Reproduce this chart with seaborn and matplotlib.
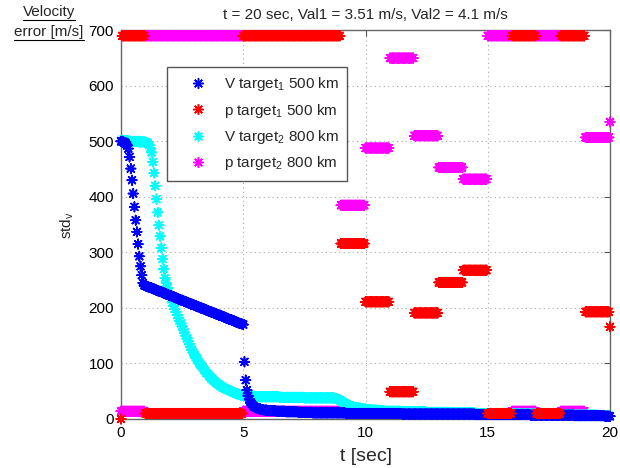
import numpy as np
import pandas as pd
import matplotlib
matplotlib.use("Agg")
import matplotlib.pyplot as plt
from matplotlib.lines import Line2D
import seaborn as sns

# ---------------- data ----------------
dt = 0.05
n_per_sec = 20

# V target1 500 km (blue), one row per second, samples every 0.05 s
v1_rows = [
    [500, 500, 499, 498, 496, 493, 487, 472, 451, 430, 406, 382, 358, 337, 315, 293, 275, 259, 245, 241],
    [240, 239, 238, 237, 237, 236, 235, 234, 233, 232, 231, 230, 230, 229, 228, 227, 226, 225, 224, 223],
    [222, 222, 221, 220, 219, 218, 217, 216, 215, 214, 214, 213, 212, 211, 210, 209, 208, 207, 207, 206],
    [205, 204, 203, 202, 201, 200, 200, 199, 198, 197, 196, 195, 194, 193, 193, 192, 191, 190, 189, 188],
    [187, 187, 186, 185, 184, 183, 182, 181, 180, 179, 179, 178, 177, 176, 175, 174, 173, 172, 172, 171],
    [170, 103, 70, 52, 42, 35, 30, 27, 24, 22, 21, 20, 19, 18, 18, 17, 17, 16, 16, 16],
    [15, 15, 15, 15, 15, 15, 15, 14, 14, 14, 14, 14, 14, 14, 14, 13, 13, 13, 13, 13],
    [13, 13, 13, 13, 13, 12, 12, 12, 12, 12, 12, 12, 12, 12, 12, 12, 12, 11, 11, 11],
    [11, 11, 11, 11, 11, 11, 11, 11, 11, 11, 11, 11, 11, 11, 11, 11, 11, 11, 11, 11],
    [11, 11, 11, 11, 10, 10, 10, 10, 10, 10, 10, 10, 10, 10, 10, 10, 10, 10, 10, 10],
    [10, 10, 10, 10, 10, 10, 10, 10, 10, 10, 10, 10, 10, 10, 10, 10, 10, 10, 10, 10],
    [10, 10, 10, 10, 10, 10, 10, 10, 10, 10, 9, 9, 9, 9, 9, 9, 9, 9, 9, 9],
    [9, 9, 9, 9, 9, 9, 9, 9, 9, 9, 9, 9, 9, 9, 9, 9, 9, 9, 9, 9],
    [9, 9, 9, 9, 9, 9, 9, 9, 9, 9, 9, 9, 9, 9, 9, 9, 9, 9, 9, 9],
    [9, 9, 9, 9, 9, 9, 9, 9, 9, 9, 8, 8, 8, 8, 8, 8, 8, 8, 8, 8],
    [8, 8, 8, 8, 8, 8, 8, 8, 8, 8, 8, 8, 8, 8, 8, 8, 8, 8, 8, 8],
    [8, 8, 8, 8, 8, 8, 8, 8, 8, 8, 8, 8, 8, 8, 8, 7, 7, 7, 7, 7],
    [7, 7, 7, 7, 7, 7, 7, 7, 7, 7, 7, 7, 7, 7, 7, 7, 7, 7, 7, 7],
    [7, 7, 7, 7, 7, 7, 7, 7, 7, 7, 7, 6, 6, 6, 6, 6, 6, 6, 6, 6],
    [6, 6, 6, 6, 6, 6, 6, 6, 6, 6, 6, 6, 6, 6, 6, 6, 5, 5, 5, 5],
]
v1_last = 5

# V target2 800 km (cyan)
v2_rows = [
    [501, 501, 501, 501, 501, 501, 501, 500, 500, 500, 500, 500, 500, 500, 500, 499, 499, 499, 499, 499],
    [498, 498, 496, 493, 488, 480, 463, 443, 420, 396, 372, 349, 329, 308, 288, 270, 254, 245, 236, 229],
    [222, 216, 210, 204, 198, 193, 187, 182, 177, 172, 167, 161, 156, 150, 145, 140, 135, 130, 125, 120],
    [116, 112, 109, 105, 101, 98, 95, 92, 89, 86, 83, 81, 78, 76, 73, 71, 69, 67, 65, 63],
    [62, 60, 59, 57, 56, 55, 54, 53, 52, 51, 50, 49, 48, 47, 46, 45, 45, 44, 43, 43],
    [42, 42, 41, 41, 41, 41, 41, 41, 41, 41, 40, 40, 40, 40, 40, 40, 40, 40, 40, 40],
    [40, 40, 40, 40, 40, 40, 40, 40, 40, 40, 39, 39, 39, 39, 39, 39, 39, 39, 39, 39],
    [39, 39, 39, 39, 39, 39, 39, 39, 39, 39, 38, 38, 38, 38, 38, 38, 38, 38, 38, 38],
    [38, 38, 38, 38, 38, 38, 38, 38, 38, 38, 38, 38, 38, 38, 38, 37, 37, 36, 35, 34],
    [33, 31, 30, 28, 27, 26, 25, 24, 23, 22, 22, 21, 21, 20, 20, 19, 19, 19, 18, 18],
    [18, 17, 17, 17, 17, 16, 16, 16, 16, 16, 15, 15, 15, 15, 15, 15, 14, 14, 14, 14],
    [14, 14, 14, 14, 14, 14, 14, 14, 14, 14, 13, 13, 13, 13, 13, 13, 13, 13, 13, 13],
    [13, 13, 13, 13, 13, 13, 13, 13, 13, 13, 12, 12, 12, 12, 12, 12, 12, 12, 12, 12],
    [12, 12, 12, 12, 12, 12, 12, 12, 12, 12, 11, 11, 11, 11, 11, 11, 11, 11, 11, 11],
    [11, 11, 11, 11, 11, 11, 11, 11, 11, 11, 10, 10, 10, 10, 10, 10, 10, 10, 10, 10],
    [10, 10, 10, 10, 10, 10, 10, 10, 10, 10, 9, 9, 9, 9, 9, 9, 9, 9, 9, 9],
    [9, 9, 9, 9, 9, 9, 9, 9, 9, 9, 9, 9, 9, 9, 9, 9, 9, 9, 9, 9],
    [9, 9, 9, 9, 9, 9, 9, 9, 9, 9, 8, 8, 8, 8, 8, 8, 8, 8, 8, 8],
    [8, 8, 8, 8, 8, 8, 8, 8, 8, 8, 7, 7, 7, 7, 7, 7, 7, 7, 7, 7],
    [7, 7, 7, 7, 7, 7, 7, 7, 7, 7, 6, 6, 6, 6, 6, 6, 6, 6, 6, 6],
]
v2_last = 5

# p target1 500 km (red): level held during each second [k, k+1)
p1_levels = [690, 10, 10, 10, 10, 690, 690, 690, 690, 316,
             211, 49, 191, 246, 268, 10, 690, 10, 690, 193]
p1_first = 0
p1_last = 166

# p target2 800 km (magenta)
p2_levels = [14, 690, 690, 690, 690, 14, 14, 14, 14, 385,
             488, 650, 510, 453, 432, 690, 14, 690, 14, 507]
p2_last = 535

series_labels = [r"V target$_{1}$ 500 km", r"p target$_{1}$ 500 km",
                 r"V target$_{2}$ 800 km", r"p target$_{2}$ 800 km"]
series_colors = ["#0000ff", "#ff0000", "#00ffff", "#ff00ff"]

title_text = "t = 20 sec, Val1 = 3.51 m/s, Val2 = 4.1 m/s"
x_ticks = [0, 5, 10, 15, 20]
y_ticks = [0, 100, 200, 300, 400, 500, 600, 700]

# ---------------- build long-form table ----------------
n_total = len(v1_rows) * n_per_sec + 1
t = np.arange(n_total) * dt

v1 = np.concatenate([np.array(r, float) for r in v1_rows] + [[v1_last]])
v2 = np.concatenate([np.array(r, float) for r in v2_rows] + [[v2_last]])
p1 = np.concatenate([np.repeat(np.array(p1_levels, float), n_per_sec), [p1_last]])
p1[0] = p1_first
p2 = np.concatenate([np.repeat(np.array(p2_levels, float), n_per_sec), [p2_last]])

values = {series_labels[0]: v1, series_labels[1]: p1,
          series_labels[2]: v2, series_labels[3]: p2}
draw_order = [series_labels[3], series_labels[2], series_labels[0], series_labels[1]]
df = pd.concat([pd.DataFrame({"t": t, "value": values[k], "series": k}) for k in draw_order],
               ignore_index=True)

# ---------------- style ----------------
sns.set_style("white")
plt.rcParams["font.family"] = ["Liberation Sans", "DejaVu Sans"]
plt.rcParams["mathtext.fontset"] = "custom"
plt.rcParams["mathtext.rm"] = "Liberation Sans"
plt.rcParams["mathtext.it"] = "Liberation Sans:italic"
plt.rcParams["mathtext.default"] = "regular"

fig = plt.figure(figsize=(6.2, 4.68), dpi=100)
ax = fig.add_axes([121 / 620, 49 / 468, 489 / 620, 388.7 / 468])

asterisk = (8, 2, 0)
palette = dict(zip(series_labels, series_colors))
sns.scatterplot(data=df, x="t", y="value", hue="series", hue_order=series_labels,
                palette=palette, marker=asterisk, s=46, linewidth=1.2,
                legend=False, ax=ax, clip_on=False, zorder=3)

ax.set_xlim(0, 20)
ax.set_ylim(0, 700)
ax.set_xticks(x_ticks)
ax.set_yticks(y_ticks)
ax.set_xticklabels([str(v) for v in x_ticks])
ax.set_yticklabels([str(v) for v in y_ticks])
ax.tick_params(direction="in", top=True, right=True, length=4, width=0.8,
               color="#555555", labelsize=11, pad=5, labelcolor="black")
ax.grid(True, linestyle=(0, (1, 3)), color="#a8a8a8", linewidth=0.8)
for sp in ax.spines.values():
    sp.set_color("#666666")
    sp.set_linewidth(1.0)
ax.set_axisbelow(True)

ax.set_xlabel("t [sec]", fontsize=14, labelpad=6)
ax.set_ylabel(r"std$_{\mathrm{v}}$", fontsize=11, labelpad=9)
ax.set_title(title_text, fontsize=11, pad=8)

handles = [Line2D([], [], linestyle="none", marker=asterisk, markersize=7.5,
                  markeredgewidth=1.1, color=c) for c in series_colors]
leg = ax.legend(handles, series_labels, loc="upper left",
                bbox_to_anchor=(0.0935, 0.906), fontsize=11, frameon=True,
                fancybox=False, edgecolor="#555555", framealpha=1,
                borderpad=0.55, labelspacing=0.55, handlelength=3.0,
                handletextpad=0.2, borderaxespad=0)
leg.get_frame().set_linewidth(1.0)

# top-left caption, underlined
t1 = fig.text(49 / 620, 1 - 12 / 468, "Velocity", ha="center", va="center", fontsize=11)
t2 = fig.text(49 / 620, 1 - 32 / 468, "error [m/s]", ha="center", va="center", fontsize=11)
fig.canvas.draw()
renderer = fig.canvas.get_renderer()
for txt in (t1, t2):
    bb = txt.get_window_extent(renderer)
    y = (bb.y0 - 0.5) / fig.bbox.height
    fig.add_artist(Line2D([bb.x0 / fig.bbox.width, bb.x1 / fig.bbox.width], [y, y],
                          transform=fig.transFigure, color="black", linewidth=0.8))

fig.savefig("out.png", dpi=100)
